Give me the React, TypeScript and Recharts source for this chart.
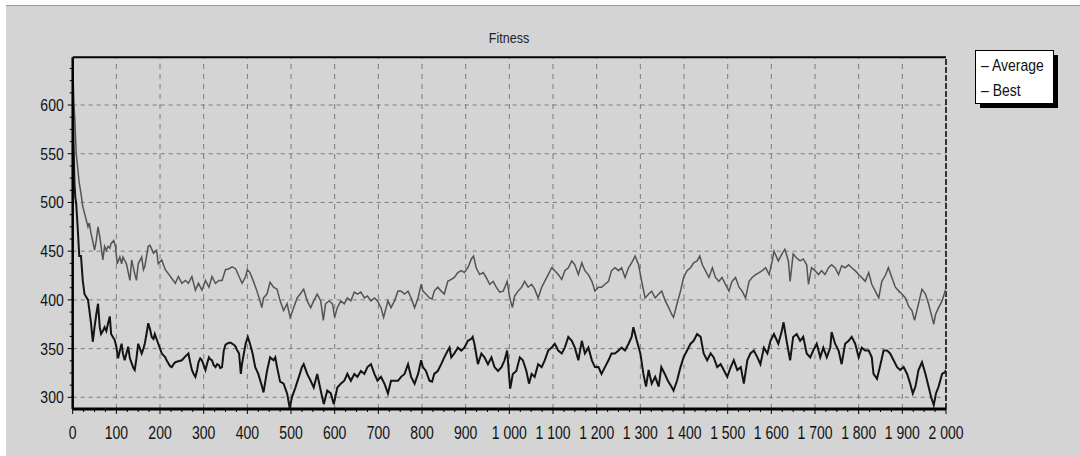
import React from 'react';
import { LineChart, Line, XAxis, YAxis, ReferenceLine, Customized } from 'recharts';

// ---- data ----
const avgGen = [
  0, 3, 5, 8, 12, 15, 19, 23, 27, 31, 35, 38, 42, 46, 50, 54, 58, 62, 65, 69, 73, 77, 81, 85, 88, 94, 98,
  102, 108, 112, 115, 123, 131, 135, 142, 146, 150, 158, 162, 165, 173, 177, 185, 192, 196, 204, 212, 219,
  227, 235, 242, 250, 258, 265, 273, 281, 288, 296, 304, 312, 319, 327, 335, 342, 350, 358, 365, 373, 381,
  388, 396, 400, 406, 414, 422, 429, 433, 437, 445, 452, 460, 468, 475, 483, 491, 498, 506, 514, 521, 529,
  537, 545, 552, 560, 568, 574, 579, 587, 595, 600, 606, 614, 622, 629, 637, 645, 652, 660, 668, 675, 683,
  691, 698, 706, 712, 722, 729, 737, 745, 752, 760, 768, 775, 783, 791, 798, 802, 809, 817, 823, 828, 836,
  844, 851, 859, 867, 874, 882, 890, 897, 905, 913, 918, 924, 932, 940, 947, 955, 963, 970, 978, 986, 995,
  1001, 1007, 1012, 1020, 1028, 1035, 1043, 1051, 1058, 1066, 1074, 1081, 1089, 1097, 1104, 1112, 1120,
  1127, 1135, 1143, 1150, 1158, 1166, 1173, 1181, 1189, 1196, 1204, 1211, 1219, 1227, 1234, 1242, 1250,
  1257, 1265, 1273, 1280, 1288, 1296, 1303, 1311, 1319, 1326, 1334, 1342, 1349, 1357, 1365, 1372, 1376,
  1384, 1392, 1399, 1407, 1415, 1422, 1430, 1436, 1442, 1449, 1457, 1465, 1472, 1480, 1487, 1495, 1503,
  1510, 1518, 1526, 1533, 1541, 1549, 1556, 1564, 1572, 1579, 1587, 1595, 1602, 1606, 1616, 1624, 1631,
  1639, 1643, 1650, 1658, 1666, 1673, 1681, 1685, 1692, 1700, 1708, 1715, 1723, 1731, 1738, 1746, 1754,
  1761, 1769, 1777, 1784, 1792, 1800, 1807, 1815, 1823, 1830, 1838, 1846, 1853, 1861, 1868, 1876, 1884,
  1892, 1899, 1907, 1915, 1922, 1928, 1937, 1945, 1953, 1960, 1968, 1972, 1976, 1983, 1991, 1998, 2000,
];
const avgValue = [
  640, 600, 584, 550, 533, 520, 509, 496, 489, 482, 475, 479, 468, 460, 451, 461, 475, 465, 455, 441, 455, 451, 455, 453, 458, 461, 455,
  437, 444, 437, 444, 437, 420, 441, 427, 420, 437, 444, 431, 434, 455, 456, 448, 451, 437, 441, 431, 427,
  422, 417, 424, 417, 420, 417, 424, 410, 417, 410, 420, 413, 424, 417, 420, 420, 431, 432, 434, 432, 424,
  417, 424, 431, 428, 419, 409, 399, 392, 402, 406, 418, 413, 411, 399, 389, 396, 382, 392, 402, 406, 411,
  399, 392, 399, 406, 399, 379, 396, 399, 396, 382, 392, 399, 396, 402, 399, 408, 406, 408, 402, 404, 399,
  402, 399, 392, 382, 399, 392, 399, 409, 409, 406, 409, 402, 392, 402, 416, 409, 406, 402, 401, 409, 413,
  409, 406, 419, 421, 423, 428, 430, 428, 433, 442, 445, 433, 426, 428, 423, 416, 419, 413, 408, 409, 419,
  402, 392, 404, 409, 413, 419, 413, 416, 411, 402, 413, 419, 426, 433, 430, 426, 421,
  430, 433, 440, 436, 426, 438, 430, 426, 419, 409, 413, 413, 416, 419, 430, 433, 430,
  433, 423, 433, 438, 445, 436, 419, 402, 406, 409, 402, 406, 409, 399, 392, 385, 382,
  396, 409, 423, 430, 433, 438, 440, 445, 436, 430, 423, 433, 423, 419, 423, 416, 409,
  419, 423, 413, 409, 402, 419, 423, 426, 428, 430, 433, 426, 440, 450, 440, 447, 452,
  440, 419, 447, 443, 440, 442, 436, 416, 433, 430, 426, 430, 426, 433, 436, 433, 426,
  435, 433, 436, 433, 430, 426, 423, 419, 428, 416, 409, 402, 419, 425, 433, 423, 413,
  409, 406, 402, 393, 389, 379, 396, 411, 406, 396, 382, 375, 385, 392, 399, 409, 405,
];

const bestGen = [
  0, 2, 4, 6, 8, 12, 15, 19, 23, 27, 31, 35, 38, 42, 46, 50, 54, 58, 62, 65, 69, 73, 77, 81, 85, 88, 92, 96,
  100, 104, 108, 112, 115, 119, 123, 127, 131, 135, 139, 142, 146, 150, 154, 158, 162, 165, 169, 173, 177,
  181, 185, 188, 192, 196, 200, 204, 208, 212, 215, 219, 223, 227, 231, 235, 242, 250, 258, 265, 269, 273,
  277, 281, 285, 288, 292, 296, 300, 304, 308, 312, 315, 319, 323, 327, 331, 335, 338, 342, 346, 350, 354,
  358, 362, 365, 369, 373, 377, 381, 385, 388, 392, 396, 401, 406, 412, 418, 425, 433, 437, 445, 452, 460,
  464, 468, 475, 483, 491, 497, 502, 510, 518, 525, 529, 537, 545, 552, 560, 568, 575, 583, 591, 598, 606,
  614, 622, 629, 637, 645, 652, 660, 668, 675, 683, 691, 698, 706, 714, 722, 729, 737, 745, 752, 760, 768,
  775, 783, 791, 798, 802, 809, 817, 823, 828, 836, 844, 851, 859, 863, 867, 874, 882, 890, 897, 905, 913,
  916, 920, 928, 936, 943, 951, 959, 966, 974, 982, 989, 995, 999, 1002, 1008, 1016, 1024, 1031, 1039,
  1045, 1051, 1058, 1066, 1074, 1081, 1089, 1097, 1104, 1112, 1120, 1127, 1135, 1143, 1150, 1158, 1166,
  1173, 1181, 1189, 1196, 1204, 1211, 1219, 1227, 1234, 1242, 1250, 1257, 1265, 1273, 1280, 1284, 1292,
  1300, 1307, 1313, 1319, 1326, 1334, 1342, 1348, 1356, 1363, 1371, 1376, 1384, 1392, 1399, 1407, 1415,
  1422, 1430, 1438, 1445, 1453, 1461, 1468, 1476, 1484, 1491, 1499, 1507, 1514, 1522, 1530, 1537, 1545,
  1552, 1560, 1568, 1575, 1583, 1591, 1598, 1606, 1616, 1624, 1628, 1635, 1643, 1650, 1658, 1666, 1673,
  1681, 1689, 1696, 1704, 1712, 1719, 1727, 1735, 1738, 1746, 1754, 1761, 1769, 1777, 1784, 1792, 1800,
  1807, 1815, 1823, 1830, 1834, 1842, 1850, 1857, 1865, 1872, 1880, 1888, 1895, 1903, 1911, 1918, 1924,
  1930, 1937, 1945, 1953, 1960, 1966, 1972, 1977, 1983, 1991, 1998, 2000,
];
const bestValue = [
  625, 560, 520, 505, 499, 470, 445, 445, 420, 406, 403, 400, 390, 376, 357, 372, 385, 396, 372, 365, 368, 372, 368, 376, 383, 365, 362, 359,
  352, 340, 348, 355, 345, 338, 345, 352, 340, 335, 330, 328, 340, 355, 350, 345, 350, 355, 365, 376, 370,
  362, 360, 365, 360, 355, 350, 345, 343, 341, 338, 335, 332, 331, 334, 336, 337, 338, 342, 345, 336, 328,
  324, 321, 328, 336, 340, 338, 333, 328, 335, 341, 339, 338, 333, 331, 334, 333, 330, 331, 348, 354, 355,
  356, 356, 355, 354, 352, 348, 345, 324, 335, 345, 355, 362, 355, 345, 331, 324, 312, 305, 327, 341, 338,
  341, 331, 316, 314, 304, 289, 300, 310, 321, 331, 334, 324, 317, 310, 324, 307, 293, 307, 304, 293, 310,
  314, 317, 324, 317, 324, 321, 327, 324, 331, 334, 324, 317, 321, 314, 304, 317, 317, 317, 321, 324, 334,
  321, 314, 324, 338, 331, 327, 317, 316, 324, 327, 334, 341, 348, 351, 341, 345, 351, 348, 351, 358, 360,
  362, 355, 334, 345, 341, 334, 341, 331, 327, 331, 338, 348, 324, 309, 324, 327, 341, 338, 327,
  314, 324, 321, 334, 331, 338, 348, 351, 355, 348, 345, 351, 362, 358, 351, 338, 358,
  345, 351, 338, 331, 331, 324, 331, 338, 345, 345, 348, 351, 348, 355, 362, 372, 358,
  345, 324, 311, 328, 314, 321, 311, 331, 324, 317, 311, 307, 317, 331, 341, 348, 355,
  358, 365, 362, 345, 338, 345, 341, 331, 334, 328, 321, 331, 338, 328, 331, 314, 338,
  345, 348, 341, 334, 351, 345, 358, 365, 355, 368, 377, 358, 338, 362, 365, 358, 362,
  345, 341, 348, 355, 341, 351, 341, 351, 367, 355, 348, 334, 355, 358, 362, 355, 341,
  351, 348, 348, 341, 324, 319, 334, 348, 348, 345, 338, 331, 328, 331, 324, 314, 304,
  311, 328, 336, 324, 311, 300, 292, 304, 311, 324, 326, 328,
];

const xMajorTicks = [0, 100, 200, 300, 400, 500, 600, 700, 800, 900, 1000, 1100, 1200, 1300, 1400, 1500, 1600, 1700, 1800, 1900, 2000];
const yMajorTicks = [300, 350, 400, 450, 500, 550, 600];
const xAllTicks = Array.from({ length: 81 }, (_, i) => i * 25);
const yAllTicks = Array.from({ length: 28 }, (_, i) => 300 + i * 12.5);
const seriesNames = ['Average', 'Best'];
const chartTitle = 'Fitness';

const avgData = avgGen.map((g, i) => ({ gen: g, value: avgValue[i] }));
const bestData = bestGen.map((g, i) => ({ gen: g, value: bestValue[i] }));

const FONT = '"Liberation Sans", Arial, sans-serif';

const fmtX = (v: number) =>
  v >= 1000 ? `${Math.floor(v / 1000)} ${String(v % 1000).padStart(3, '0')}` : String(v);

const XTick = (props: any) => {
  const { x, y, payload } = props;
  const v = payload.value as number;
  const major = v % 100 === 0;
  return (
    <g>
      <line x1={x} x2={x} y1={y} y2={y + (major ? 5 : 3)} stroke="#000" strokeWidth={1} />
      {major && (
        <text
          transform={`translate(${x},${y + 30}) scale(1,1.3)`}
          textAnchor="middle"
          fontFamily={FONT}
          fontSize={14}
          fill="#111"
        >
          {fmtX(v)}
        </text>
      )}
    </g>
  );
};

const YTick = (props: any) => {
  const { x, y, payload } = props;
  const v = payload.value as number;
  const major = v % 50 === 0;
  return (
    <g>
      <line x1={x - (major ? 5 : 3)} x2={x} y1={y} y2={y} stroke="#000" strokeWidth={1} />
      {major && (
        <text
          transform={`translate(${x - 9},${y + 6}) scale(1,1.2)`}
          textAnchor="end"
          fontFamily={FONT}
          fontSize={14}
          fill="#111"
        >
          {v}
        </text>
      )}
    </g>
  );
};

const Decorations = () => (
  <g>
    <text
      transform="translate(509,43) scale(1,1.15)"
      textAnchor="middle"
      fontFamily={FONT}
      fontSize={12.5}
      fill="#222"
    >
      {chartTitle}
    </text>
    <rect x={980} y={55} width={78} height={53} fill="#000" />
    <rect x={975.5} y={50.5} width={78} height={53} fill="#fff" stroke="#000" strokeWidth={1} />
    {seriesNames.map((n, i) => (
      <text
        key={n}
        transform={`translate(981,${71 + i * 25}) scale(1,1.2)`}
        fontFamily={FONT}
        fontSize={14}
        fill="#111"
      >
        {`– ${n}`}
      </text>
    ))}
  </g>
);

export default function App() {
  return (
    <div style={{ position: 'absolute', left: 0, top: 0, width: 1080, height: 456, background: '#fff' }}>
      <div
        style={{
          position: 'absolute',
          left: 6,
          top: 5,
          width: 1074,
          height: 451,
          background: '#d4d4d4',
          borderTop: '1px solid #9a9a9a',
          boxSizing: 'border-box',
        }}
      />
      <div style={{ position: 'absolute', left: 0, top: 0 }}>
        <LineChart
          width={1080}
          height={456}
          margin={{ top: 57.3, right: 134, bottom: 17, left: 12.7 }}
        >
          <XAxis
            type="number"
            dataKey="gen"
            domain={[0, 2000]}
            allowDataOverflow
            ticks={xAllTicks}
            interval={0}
            tickLine={false}
            tickSize={0}
            tickMargin={0}
            height={30}
            tick={<XTick />}
            axisLine={{ stroke: '#000', strokeWidth: 3 }}
          />
          <YAxis
            type="number"
            dataKey="value"
            domain={[288, 649]}
            allowDataOverflow
            ticks={yAllTicks}
            interval={0}
            tickLine={false}
            tickSize={0}
            tickMargin={0}
            width={60}
            tick={<YTick />}
            axisLine={{ stroke: '#000', strokeWidth: 2.5 }}
          />
          {xMajorTicks.slice(1, -1).map((v) => (
            <ReferenceLine key={'vx' + v} x={v} stroke="#7a7a7a" strokeDasharray="5 5" strokeWidth={1} />
          ))}
          {yMajorTicks.map((v) => (
            <ReferenceLine key={'hy' + v} y={v} stroke="#7a7a7a" strokeDasharray="4 4" strokeWidth={1} />
          ))}
          <ReferenceLine y={649} stroke="#000" strokeWidth={2} />
          <ReferenceLine x={2000} stroke="#000" strokeWidth={1.5} strokeDasharray="6 2" />
          <Line
            data={avgData}
            dataKey="value"
            name="Average"
            type="linear"
            stroke="#545454"
            strokeWidth={1.5}
            dot={false}
            activeDot={false}
            isAnimationActive={false}
          />
          <Line
            data={bestData}
            dataKey="value"
            name="Best"
            type="linear"
            stroke="#141414"
            strokeWidth={2}
            dot={false}
            activeDot={false}
            isAnimationActive={false}
          />
          <Customized component={Decorations} />
        </LineChart>
      </div>
    </div>
  );
}
